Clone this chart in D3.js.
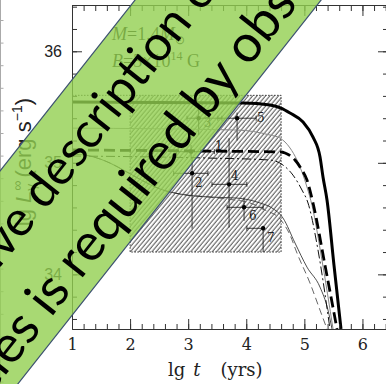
<!DOCTYPE html>
<html><head><meta charset="utf-8">
<script src="https://cdn.jsdelivr.net/npm/d3@7/dist/d3.min.js"></script>
<style>html,body{margin:0;padding:0;background:#fff;overflow:hidden}</style>
</head><body>
<svg id="c" width="386" height="384" xmlns="http://www.w3.org/2000/svg"></svg>
<script>
// ---------------- data ----------------
const xDomain = [1, 6.44];
const yDomain = [33.51, 36.415];
const xTickValues = [1, 2, 3, 4, 5, 6];
const xTickLabels = ["1", "2", "3", "4", "5", "6"];
const yTickValues = [34, 35, 36];
const yTickLabels = ["34", "35", "36"];

// thick solid
const curveA_t = [1.00, 3.944, 4.408, 4.598, 4.753, 4.977, 5.149, 5.270, 5.321, 5.390, 5.510, 5.631];
const curveA_L = [35.545, 35.536, 35.518, 35.491, 35.447, 35.366, 35.231, 35.052, 34.873, 34.667, 34.083, 33.51];
// thin grey solid
const curveB_t = [1.00, 3.840, 4.408, 4.581, 4.753, 4.873, 4.959, 5.045, 5.132, 5.304, 5.494];
const curveB_L = [35.311, 35.294, 35.249, 35.222, 35.133, 35.025, 34.917, 34.783, 34.618, 34.125, 33.51];
// thick dashed
const curveC_t = [1.00, 3.203, 4.598, 4.667, 4.839, 4.959, 5.045, 5.149, 5.355, 5.562];
const curveC_L = [35.115, 35.106, 35.097, 35.088, 35.025, 34.935, 34.846, 34.640, 34.083, 33.51];
// thin dash-dot
const curveD_t = [1.00, 3.324, 4.408, 4.632, 4.804, 4.959, 5.063, 5.235, 5.441];
const curveD_L = [35.061, 35.043, 35.025, 34.980, 34.890, 34.756, 34.640, 34.218, 33.51];
// thin solid (lower)
const curveE1_t = [1.00, 1.310, 1.654, 1.947, 2.257, 2.515, 2.859, 3.376, 3.840, 4.236, 4.443, 4.632, 4.839, 5.045, 5.269, 5.407, 5.476];
const curveE1_L = [35.079, 35.061, 34.998, 34.917, 34.828, 34.765, 34.720, 34.693, 34.684, 34.640, 34.595, 34.505, 34.281, 34.065, 33.886, 33.680, 33.51];
// thin dashed (lower)
const curveE2_t = [1.00, 1.310, 1.654, 1.947, 2.257, 2.515, 2.859, 3.376, 3.668, 4.064, 4.322, 4.581, 4.753, 4.873, 5.097, 5.269, 5.390];
const curveE2_L = [35.079, 35.061, 34.998, 34.917, 34.828, 34.765, 34.720, 34.693, 34.675, 34.640, 34.577, 34.496, 34.353, 34.191, 33.922, 33.680, 33.51];

// observed sources
const obsIds = ["1", "2", "3", "4", "5", "6", "7"];
const obsT   = [3.05, 3.067, 3.18, 3.704, 3.842, 3.962, 4.29];
const obsL   = [35.10, 34.906, 35.40, 34.807, 35.40, 34.601, 34.413];
const obsTlo = [2.80, 2.75, 2.98, 3.41, 3.51, 3.67, 4.01];
const obsThi = [3.45, 3.34, 3.58, 4.01, 4.17, 4.29, 4.29];
const obsLlo = [35.04, 34.41, 35.25, 34.42, 35.20, 34.48, 34.20];
const obsLhi = [35.16, 35.05, 35.50, 35.22, 35.45, 34.69, 34.413];

// hatched observational box
const boxT = [2.0, 4.6];
const boxL = [34.2, 35.605];

const bannerLines = ["Comprehensive description of", "magnetar properties is required by observations"];
const bannerKeys  = ["ve d", "required"];

// ---------------- layout / style (not data) ----------------
const W = 386, H = 384;
const PL = 72, PR = 388, PT = 5, PB = 329;
const labelOffsets = [[24, -2], [3, 14], [5, 9], [2, -4], [20, 4], [5, 13], [4, 14]];

const svg = d3.select("#c");
const x = d3.scaleLinear().domain(xDomain).range([PL, PR]);
const y = d3.scaleLinear().domain(yDomain).range([PB, PT]);

const defs = svg.append("defs");
const pat = defs.append("pattern").attr("id", "hatch").attr("patternUnits", "userSpaceOnUse")
  .attr("width", 3.3).attr("height", 10).attr("patternTransform", "rotate(40)");
pat.append("line").attr("x1", 1).attr("y1", -1).attr("x2", 1).attr("y2", 11)
  .attr("stroke", "#3a3a3a").attr("stroke-width", 0.9);
defs.append("clipPath").attr("id", "plotclip").append("rect")
  .attr("x", PL).attr("y", PT).attr("width", PR - PL).attr("height", PB - PT);

// neighbouring panel edge at far left
const yN = d3.scaleLinear().domain([0, 1]).range([20, 42.6]);
svg.append("g").attr("transform", "translate(0.5,0)")
  .call(d3.axisRight(yN).tickValues(d3.range(-1, 17)).tickSize(3).tickSizeOuter(0).tickFormat(""))
  .call(g => { g.selectAll("path").attr("d", `M0,0V${H}`).attr("stroke", "#aaa"); g.selectAll("line").attr("stroke", "#aaa"); });

const plot = svg.append("g").attr("clip-path", "url(#plotclip)");

// hatched box
plot.append("rect")
  .attr("x", x(boxT[0])).attr("y", y(boxL[1]))
  .attr("width", x(boxT[1]) - x(boxT[0])).attr("height", y(boxL[0]) - y(boxL[1]))
  .attr("fill", "url(#hatch)").attr("stroke", "#222").attr("stroke-width", 0.9)
  .attr("stroke-dasharray", "1.5,1.5");
plot.append("line")
  .attr("x1", x(xDomain[0])).attr("x2", x(boxT[0])).attr("y1", y(boxL[1])).attr("y2", y(boxL[1]))
  .attr("stroke", "#222").attr("stroke-width", 0.9).attr("stroke-dasharray", "1.5,1.5");

// error bars + points
const cap = 2.5;
obsIds.forEach((id, i) => {
  const g = plot.append("g").attr("stroke", "#111").attr("stroke-width", 0.8);
  g.append("line").attr("x1", x(obsTlo[i])).attr("x2", x(obsThi[i])).attr("y1", y(obsL[i])).attr("y2", y(obsL[i]));
  g.append("line").attr("x1", x(obsT[i])).attr("x2", x(obsT[i])).attr("y1", y(obsLlo[i])).attr("y2", y(obsLhi[i]));
  [obsTlo[i], obsThi[i]].forEach(t => g.append("line").attr("x1", x(t)).attr("x2", x(t))
    .attr("y1", y(obsL[i]) - cap).attr("y2", y(obsL[i]) + cap));
  plot.append("circle").attr("cx", x(obsT[i])).attr("cy", y(obsL[i])).attr("r", 2.2).attr("fill", "#000");
  plot.append("text").attr("x", x(obsT[i]) + labelOffsets[i][0]).attr("y", y(obsL[i]) + labelOffsets[i][1])
    .attr("font-family", "DejaVu Serif, Liberation Serif, serif").attr("font-size", 12).attr("fill", "#222").text(id);
});

// curves
const line = d3.line().x(d => x(d[0])).y(d => y(d[1])).curve(d3.curveMonotoneX);
const curves = [
  [curveE2_t, curveE2_L, {stroke: "#555", w: 0.9, dash: "7,4"}],
  [curveE1_t, curveE1_L, {stroke: "#222", w: 0.8, dash: null}],
  [curveD_t, curveD_L, {stroke: "#111", w: 1.0, dash: "9,3,2,3"}],
  [curveB_t, curveB_L, {stroke: "#888", w: 1.0, dash: null}],
  [curveC_t, curveC_L, {stroke: "#000", w: 2.8, dash: "11,5"}],
  [curveA_t, curveA_L, {stroke: "#000", w: 3.0, dash: null}],
];
curves.forEach(([ts, Ls, s]) => {
  plot.append("path").datum(ts.map((t, i) => [t, Ls[i]]))
    .attr("d", line).attr("fill", "none").attr("stroke", s.stroke).attr("stroke-width", s.w)
    .attr("stroke-dasharray", s.dash);
});

// axes
const minorX = d3.range(5, 33).map(i => i / 5);
const minorY = d3.range(168, 183).map(i => i / 5);
function styleAxis(g) {
  g.selectAll("path,line").attr("stroke", "#333").attr("stroke-width", 1);
}
svg.append("g").attr("transform", `translate(0,${PB})`)
  .call(d3.axisBottom(x).tickValues(minorX).tickSize(-5).tickSizeOuter(0).tickFormat("")).call(styleAxis);
svg.append("g").attr("transform", `translate(0,${PB})`)
  .call(d3.axisBottom(x).tickValues(xTickValues).tickSize(-10).tickSizeOuter(0).tickPadding(10)
    .tickFormat((d, i) => xTickLabels[i])).call(styleAxis)
  .call(g => g.selectAll("text").attr("font-family", "DejaVu Serif, serif").attr("font-size", 16).attr("fill", "#222"));
svg.append("g").attr("transform", `translate(0,${PT})`)
  .call(d3.axisTop(x).tickValues(minorX).tickSize(-6).tickSizeOuter(0).tickFormat("")).call(styleAxis);
svg.append("g").attr("transform", `translate(0,${PT})`)
  .call(d3.axisTop(x).tickValues(xTickValues).tickSize(-11).tickSizeOuter(0).tickFormat("")).call(styleAxis);
svg.append("g").attr("transform", `translate(${PL},0)`)
  .call(d3.axisLeft(y).tickValues(minorY).tickSize(-5).tickSizeOuter(0).tickFormat("")).call(styleAxis);
svg.append("g").attr("transform", `translate(${PL},0)`)
  .call(d3.axisLeft(y).tickValues(yTickValues).tickSize(-10).tickSizeOuter(0).tickPadding(10)
    .tickFormat((d, i) => yTickLabels[i])).call(styleAxis)
  .call(g => g.selectAll("text").attr("font-family", "Liberation Sans, Arial, sans-serif").attr("font-size", 16).attr("fill", "#222"));
svg.append("g").attr("transform", `translate(${PR},0)`)
  .call(d3.axisRight(y).tickValues(minorY).tickSize(-5).tickSizeOuter(0).tickFormat("")).call(styleAxis);
svg.append("g").attr("transform", `translate(${PR},0)`)
  .call(d3.axisRight(y).tickValues(yTickValues).tickSize(-10).tickSizeOuter(0).tickFormat("")).call(styleAxis);

// axis titles
const xt = svg.append("text").attr("x", 168).attr("y", 376)
  .attr("font-family", "DejaVu Serif, serif").attr("font-size", 18).attr("fill", "#222");
xt.append("tspan").text("lg");
xt.append("tspan").attr("dx", 8).attr("font-style", "italic").text("t");
xt.append("tspan").attr("dx", 20).text("(yrs)");

const yt = svg.append("text").attr("transform", "translate(31,98) rotate(-90)").attr("text-anchor", "end")
  .attr("font-family", "Liberation Sans, Arial, sans-serif").attr("font-size", 22).attr("fill", "#222");
yt.append("tspan").text("lg ");
yt.append("tspan").attr("font-style", "italic").text("L");
yt.append("tspan").attr("font-size", 14).attr("dy", -9).text("∞");
yt.append("tspan").attr("font-size", 14).attr("dx", -10).attr("dy", 14).text("γ");
yt.append("tspan").attr("dy", -5).text("  (erg s");
yt.append("tspan").attr("font-size", 14).attr("dy", -9).text("−1");
yt.append("tspan").attr("dy", 9).text(")");

// parameter annotations
const ann = svg.append("g").attr("font-family", "Liberation Serif, serif").attr("font-size", 18).attr("fill", "#111");
const a1 = ann.append("text").attr("x", x(1.69)).attr("y", y(36.10));
a1.append("tspan").attr("font-style", "italic").text("M");
a1.append("tspan").text("=1.4");
a1.append("tspan").attr("font-style", "italic").text("M");
a1.append("tspan").attr("font-size", 12).attr("dy", 4).text("⊙");
const a2 = ann.append("text").attr("x", x(1.69)).attr("y", y(35.86));
a2.append("tspan").attr("font-style", "italic").text("B");
a2.append("tspan").text("=3×10");
a2.append("tspan").attr("font-size", 12).attr("dy", -7).text("14");
a2.append("tspan").attr("dy", 7).text(" G");

// ---------------- banner overlay ----------------
const ang = Math.atan2(1, 0.79) * 180 / Math.PI;  // ~51.7 deg
const vTop = 106, vBot = 252;
const band = svg.append("g").attr("transform", `rotate(${-ang})`);
band.append("rect").attr("x", -700).attr("y", vTop).attr("width", 1400).attr("height", vBot - vTop)
  .attr("fill", "#92D050").attr("fill-opacity", 0.8).attr("stroke", "#3d5270").attr("stroke-width", 1.2);
const bl = [[-201, 166, 49], [-170, 237, 52]];
bannerLines.forEach((s, i) => {
  const t = band.append("text").attr("y", bl[i][1])
    .attr("font-family", "Lato, 'Open Sans', sans-serif").attr("font-size", bl[i][2]).attr("fill", "#000").text(s);
  const k = s.indexOf(bannerKeys[i]);
  const pre = k > 0 ? t.node().getSubStringLength(0, k) : 0;
  t.attr("x", bl[i][0] - pre);
});
</script>
</body></html>
